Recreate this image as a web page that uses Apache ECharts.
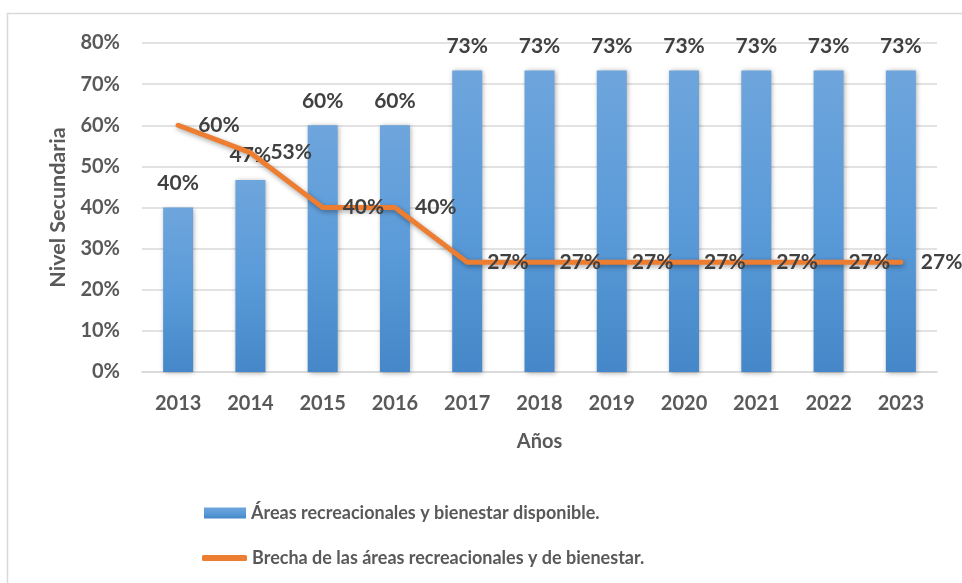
<!DOCTYPE html>
<html>
<head>
<meta charset="utf-8">
<script src="https://cdn.jsdelivr.net/npm/echarts@6/dist/echarts.min.js"></script>
<style>html,body{margin:0;padding:0;background:#fff}#c{width:962px;height:583px}</style>
</head>
<body>
<div id="c"></div>
<script>
const years = ['2013','2014','2015','2016','2017','2018','2019','2020','2021','2022','2023'];
const disponible = [40, 46.67, 60, 60, 73.33, 73.33, 73.33, 73.33, 73.33, 73.33, 73.33];
const brecha = [60, 53.33, 40, 40, 26.67, 26.67, 26.67, 26.67, 26.67, 26.67, 26.67];
const yTicks = [0, 10, 20, 30, 40, 50, 60, 70, 80];
const barName = 'Áreas recreacionales y bienestar disponible.';
const lineName = 'Brecha de las áreas recreacionales y de bienestar.';

const FONT = 'Lato, sans-serif';
const chart = echarts.init(document.getElementById('c'));
const pct = v => Math.round(v) + '%';
chart.setOption({
  animation: false,
  textStyle: { fontFamily: FONT },
  graphic: [{
    type: 'rect', shape: { x: 7.5, y: 13.5, width: 1000, height: 700 },
    style: { fill: 'none', stroke: '#d9d9d9', lineWidth: 1.5 }, silent: true, z: -1
  }],
  grid: { left: 142, right: 25, top: 43, bottom: 211, containLabel: false },
  legend: [{
    data: [{ name: barName, icon: 'rect' }],
    orient: 'vertical', left: 199, top: 499,
    itemWidth: 42, itemHeight: 11,
    textStyle: { fontFamily: FONT, fontSize: 18, fontWeight: 'bold', color: '#595959' },
    selectedMode: false
  }, {
    data: [{ name: lineName, icon: 'roundRect' }],
    orient: 'vertical', left: 197, top: 544,
    itemWidth: 45, itemHeight: 6,
    textStyle: { fontFamily: FONT, fontSize: 18, fontWeight: 'bold', color: '#595959' },
    selectedMode: false
  }],
  xAxis: {
    type: 'category', data: years,
    name: 'Años', nameLocation: 'middle', nameGap: 60,
    nameTextStyle: { fontFamily: FONT, fontSize: 20, fontWeight: 'bold', color: '#595959' },
    axisLine: { lineStyle: { color: '#d9d9d9', width: 1.5 } },
    axisTick: { show: false },
    axisLabel: { fontFamily: FONT, fontSize: 20, fontWeight: 'bold', color: '#595959', margin: 22 }
  },
  yAxis: {
    type: 'value', min: yTicks[0], max: yTicks[yTicks.length - 1], interval: 10,
    name: 'Nivel Secundaria', nameLocation: 'middle', nameGap: 75, nameRotate: 90,
    nameTextStyle: { fontFamily: FONT, fontSize: 21.5, fontWeight: 'bold', color: '#595959', verticalAlign: 'top' },
    axisLine: { show: false }, axisTick: { show: false },
    axisLabel: { fontFamily: FONT, fontSize: 20, fontWeight: 'bold', color: '#595959', margin: 22, formatter: v => v + '%' },
    splitLine: { lineStyle: { color: '#d9d9d9', width: 1.5 } }
  },
  series: [{
    name: barName, type: 'bar', data: disponible, barWidth: 30,
    itemStyle: {
      color: new echarts.graphic.LinearGradient(0, 0, 0, 1, [
        { offset: 0, color: '#6ea5dc' }, { offset: 0.5, color: '#5b9bd9' }, { offset: 1, color: '#4587c8' }
      ]),
      shadowBlur: 5, shadowColor: 'rgba(0,0,0,0.35)', shadowOffsetX: 1, shadowOffsetY: 1
    },
    label: { show: true, position: 'top', distance: 14, formatter: p => pct(p.value),
      fontFamily: FONT, fontSize: 21, fontWeight: 'bold', color: '#404040' }
  }, {
    name: lineName, type: 'line', data: brecha, symbol: 'circle', symbolSize: 0, showSymbol: true,
    lineStyle: { color: '#ed7d31', width: 5, cap: 'round', join: 'round',
      shadowBlur: 5, shadowColor: 'rgba(0,0,0,0.35)', shadowOffsetX: 1, shadowOffsetY: 2 },
    itemStyle: { color: '#ed7d31' },
    label: { show: true, position: 'right', distance: 20, formatter: p => pct(p.value),
      fontFamily: FONT, fontSize: 21, fontWeight: 'bold', color: '#404040' },
    labelLayout: { hideOverlap: false },
    z: 3
  }]
});
</script>
</body>
</html>
